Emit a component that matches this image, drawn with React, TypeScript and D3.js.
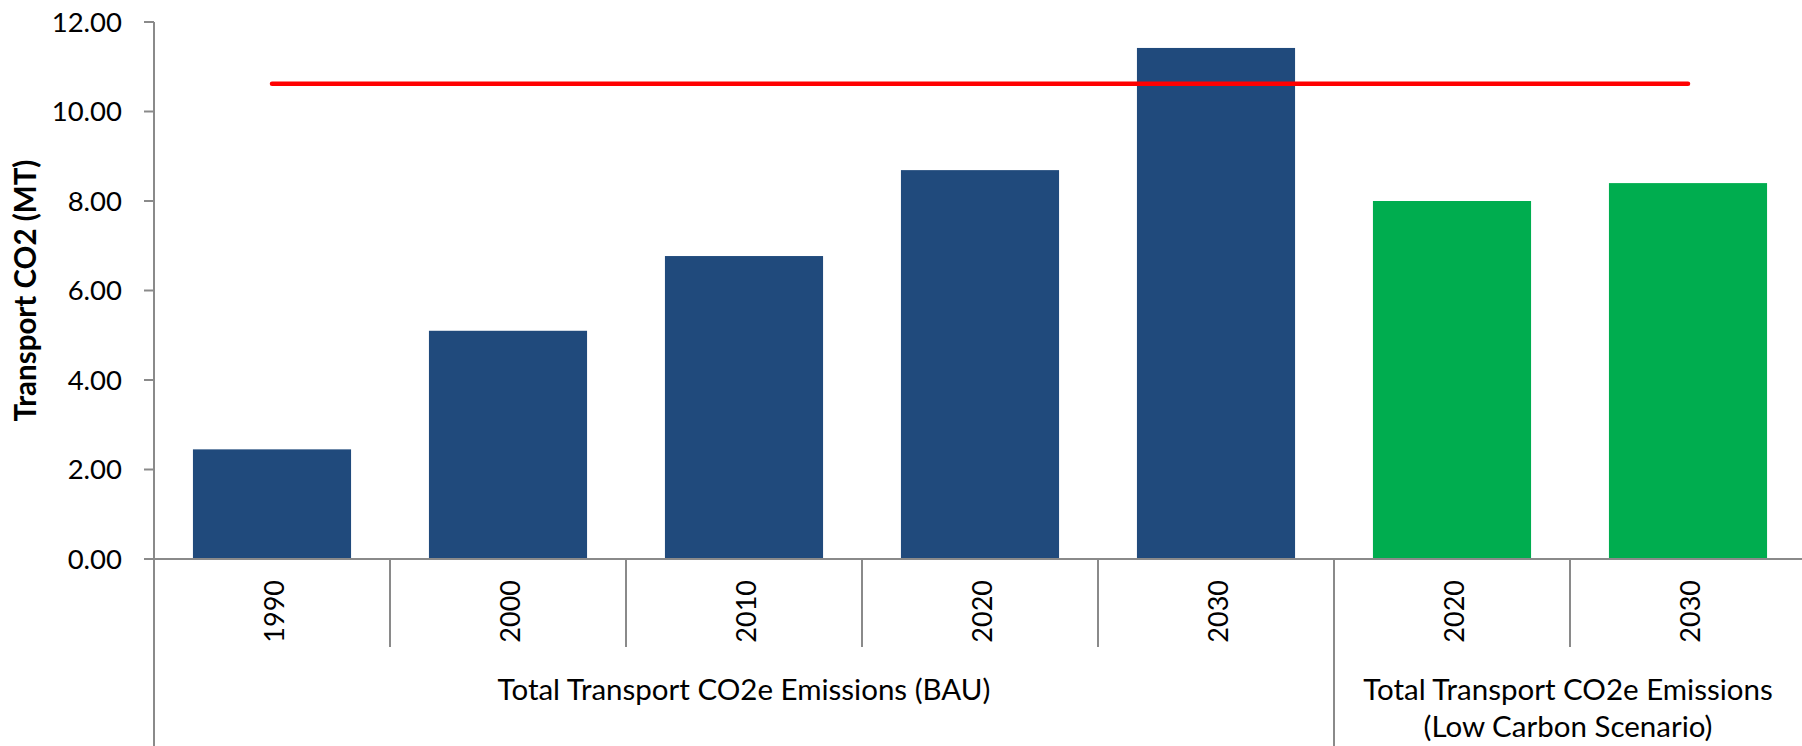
import React from "react";
import * as d3 from "d3";

// ---- data ----
const categoryIds = ["bau-1990", "bau-2000", "bau-2010", "bau-2020", "bau-2030", "lc-2020", "lc-2030"];
const categoryLabels = ["1990", "2000", "2010", "2020", "2030", "2020", "2030"];
const categoryGroup = ["bau", "bau", "bau", "bau", "bau", "lc", "lc"];
const emissionValues = [2.45, 5.1, 6.77, 8.69, 11.42, 8.0, 8.4];
const targetValues = [10.62, 10.62, 10.62, 10.62, 10.62, 10.62, 10.62];
const yTicks = [0, 2, 4, 6, 8, 10, 12];
const groupIds = ["bau", "lc"];
const groupLabelLines = [
  ["Total Transport CO2e Emissions (BAU)"],
  ["Total Transport CO2e Emissions", "(Low Carbon Scenario)"],
];
const yAxisTitle = "Transport CO2 (MT)";

// ---- styles ----
const W = 1802;
const H = 746;
const plotLeft = 154;
const plotRight = 1806;
const plotTop = 22;
const plotBottom = 559;
const axisColor = "#8a8a8a";
const barColors: Record<string, string> = { bau: "#204a7c", lc: "#00ad4f" };
const font = "Lato, 'Open Sans', sans-serif";

export default function App() {
  const x = d3
    .scaleBand<string>()
    .domain(categoryIds)
    .range([plotLeft, plotRight])
    .paddingInner(0.33)
    .paddingOuter(0.165);
  const step = x.step();
  const y = d3.scaleLinear().domain([0, 12]).range([plotBottom, plotTop]);

  const catCenter = (id: string) => (x(id) as number) + x.bandwidth() / 2;
  const catLeft = (i: number) => plotLeft + i * step;

  const lineGen = d3
    .line<number>()
    .x((_, i) => catCenter(categoryIds[i]))
    .y((d) => y(d));

  // group extents
  const groupExtents = groupIds.map((g) => {
    const idx = categoryGroup.map((cg, i) => (cg === g ? i : -1)).filter((i) => i >= 0);
    const x0 = catLeft(idx[0]);
    const x1 = Math.min(catLeft(idx[idx.length - 1] + 1), W);
    return { g, x0, x1, first: idx[0] };
  });

  return (
    <svg
      width={W}
      height={H}
      style={{ position: "absolute", left: 0, top: 0, display: "block", background: "#fff" }}
      fontFamily={font}
    >
      {/* y-axis title */}
      <text
        transform={`translate(36, ${(plotTop + plotBottom) / 2}) rotate(-90)`}
        textAnchor="middle"
        fontSize={29.5}
        fontWeight="bold"
        fill="#000"
      >
        {yAxisTitle}
      </text>

      {/* y ticks */}
      {yTicks.map((t) => (
        <g key={t}>
          <line x1={plotLeft - 10} x2={plotLeft} y1={y(t)} y2={y(t)} stroke={axisColor} strokeWidth={2} />
          <text x={122} y={y(t)} dy="0.36em" textAnchor="end" fontSize={27.5} fill="#000">
            {t.toFixed(2)}
          </text>
        </g>
      ))}

      {/* bars */}
      {categoryIds.map((id, i) => (
        <rect
          key={id}
          x={x(id)}
          y={y(emissionValues[i])}
          width={x.bandwidth()}
          height={y(0) - y(emissionValues[i])}
          fill={barColors[categoryGroup[i]]}
        />
      ))}

      {/* target line */}
      <path
        d={lineGen(targetValues) || ""}
        fill="none"
        stroke="#ff0000"
        strokeWidth={4.5}
        strokeLinecap="round"
      />

      {/* axes */}
      <line x1={plotLeft} x2={plotLeft} y1={plotTop} y2={H} stroke={axisColor} strokeWidth={2} />
      <line x1={plotLeft} x2={plotRight} y1={plotBottom} y2={plotBottom} stroke={axisColor} strokeWidth={2} />

      {/* category separators */}
      {categoryIds.slice(1).map((id, k) => {
        const i = k + 1;
        const isGroupBoundary = categoryGroup[i] !== categoryGroup[i - 1];
        const xx = catLeft(i);
        return (
          <line
            key={"sep" + id}
            x1={xx}
            x2={xx}
            y1={plotBottom}
            y2={isGroupBoundary ? H : 647}
            stroke={axisColor}
            strokeWidth={2}
          />
        );
      })}

      {/* category labels */}
      {categoryIds.map((id, i) => (
        <text
          key={"lab" + id}
          transform={`translate(${catCenter(id) + 2}, 580) rotate(-90)`}
          textAnchor="end"
          dy="0.36em"
          fontSize={27}
          fill="#000"
        >
          {categoryLabels[i]}
        </text>
      ))}

      {/* group labels */}
      {groupExtents.map((ge, gi) => (
        <text
          key={"grp" + ge.g}
          x={(ge.x0 + ge.x1) / 2}
          y={700}
          textAnchor="middle"
          fontSize={29.5}
          fill="#000"
        >
          {groupLabelLines[gi].map((ln, li) => (
            <tspan key={li} x={(ge.x0 + ge.x1) / 2} dy={li === 0 ? 0 : 36.5}>
              {ln}
            </tspan>
          ))}
        </text>
      ))}
    </svg>
  );
}
